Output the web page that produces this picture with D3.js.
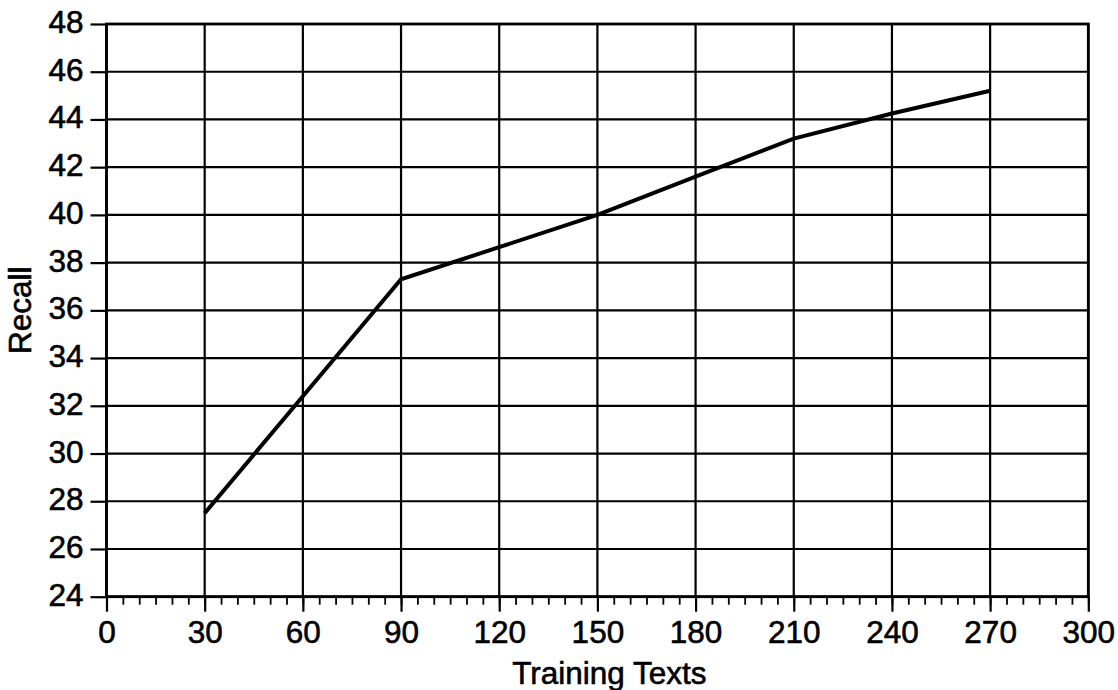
<!DOCTYPE html>
<html>
<head>
<meta charset="utf-8">
<script src="https://cdn.jsdelivr.net/npm/d3@7/dist/d3.min.js"></script>
<style>
  html, body { margin: 0; padding: 0; background: #fff; }
  svg { display: block; }
  text { font-family: "Liberation Sans", Arial, Helvetica, sans-serif; fill: #000; stroke: #000; stroke-width: 0.6px; }
</style>
</head>
<body>
<svg id="chart" width="1118" height="690"></svg>
<script>
// Data
const trainingTexts = [30, 60, 90, 120, 150, 180, 210, 240, 270];
const recall = [27.5, 32.4, 37.3, 38.65, 40.0, 41.6, 43.2, 44.25, 45.2];
const xTickValues = [0, 30, 60, 90, 120, 150, 180, 210, 240, 270, 300];
const yTickValues = [24, 26, 28, 30, 32, 34, 36, 38, 40, 42, 44, 46, 48];
const xTitle = "Training Texts";
const yTitle = "Recall";

const svg = d3.select("#chart");
const margin = { left: 106.5, right: 1118 - 1088.3, top: 24, bottom: 690 - 596.7 };
const W = 1118, H = 690;
const FS = 31.5;

const x = d3.scaleLinear().domain([0, 300]).range([margin.left, W - margin.right]);
const y = d3.scaleLinear().domain([24, 48]).range([H - margin.bottom, margin.top]);

const g = svg.append("g");

// Grid
g.append("g").selectAll("line.hg").data(yTickValues).join("line")
  .attr("x1", x(0)).attr("x2", x(300))
  .attr("y1", d => y(d)).attr("y2", d => y(d))
  .attr("stroke", "#000").attr("stroke-width", 2.2);
g.append("g").selectAll("line.vg").data(xTickValues).join("line")
  .attr("y1", y(24)).attr("y2", y(48))
  .attr("x1", d => x(d)).attr("x2", d => x(d))
  .attr("stroke", "#000").attr("stroke-width", 2.2);

// Frame
g.append("rect")
  .attr("x", x(0)).attr("y", y(48))
  .attr("width", x(300) - x(0)).attr("height", y(24) - y(48))
  .attr("fill", "none").attr("stroke", "#000").attr("stroke-width", 2.8);

// X axis with major and minor ticks
const xAxisMinor = d3.axisBottom(x).tickValues(d3.range(0, 301, 5)).tickSize(8).tickFormat("");
const xMinorG = g.append("g").attr("transform", `translate(0,${y(24)})`).call(xAxisMinor);
xMinorG.select(".domain").remove();
xMinorG.selectAll("line").attr("stroke", "#000").attr("stroke-width", 1.8);

const xAxis = d3.axisBottom(x).tickValues(xTickValues).tickSize(15).tickPadding(9).tickFormat(d3.format("d"));
const xG = g.append("g").attr("transform", `translate(0,${y(24)})`).call(xAxis);
xG.select(".domain").remove();
xG.selectAll("line").attr("stroke", "#000").attr("stroke-width", 2.2);
xG.selectAll("text").attr("font-size", FS).attr("font-family", '"Liberation Sans", Arial, sans-serif').attr("fill", "#000");

// Y axis
const yAxis = d3.axisLeft(y).tickValues(yTickValues).tickSize(16).tickPadding(7).tickFormat(d3.format("d"));
const yG = g.append("g").attr("transform", `translate(${x(0)},0)`).call(yAxis);
yG.select(".domain").remove();
yG.selectAll("line").attr("stroke", "#000").attr("stroke-width", 2.2);
yG.selectAll("text").attr("font-size", FS).attr("font-family", '"Liberation Sans", Arial, sans-serif').attr("fill", "#000").attr("dy", "0.27em");

// Data line
const line = d3.line().x((d, i) => x(trainingTexts[i])).y(d => y(d));
g.append("path").datum(recall)
  .attr("d", line)
  .attr("fill", "none").attr("stroke", "#000").attr("stroke-width", 4)
  .attr("stroke-linejoin", "miter");

// Titles
svg.append("text")
  .attr("x", (x(0) + x(300)) / 2 + 12).attr("y", 684)
  .attr("text-anchor", "middle").attr("font-size", FS)
  .text(xTitle);
svg.append("text")
  .attr("transform", `translate(31,${(y(24) + y(48)) / 2}) rotate(-90)`)
  .attr("text-anchor", "middle").attr("font-size", FS)
  .text(yTitle);
</script>
</body>
</html>
